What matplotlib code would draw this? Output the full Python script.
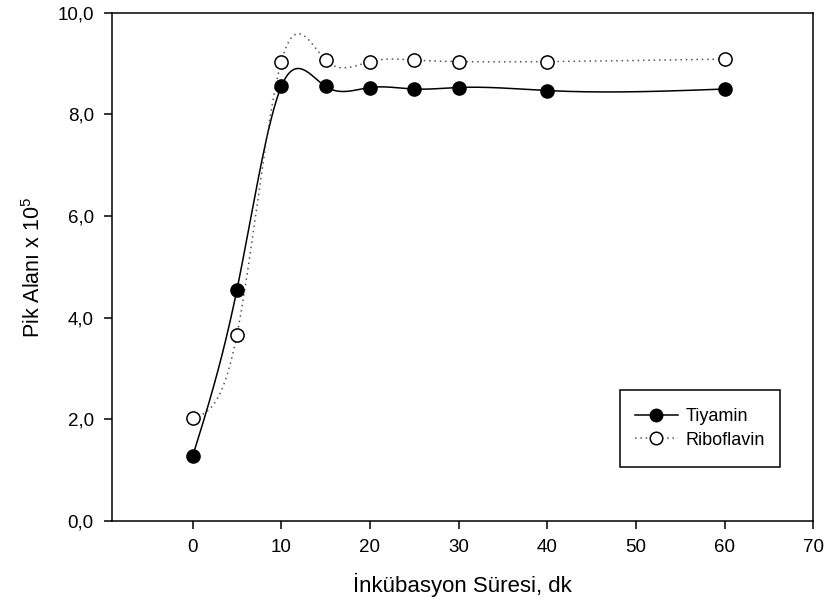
import numpy as np
import matplotlib
matplotlib.use('Agg')
import matplotlib.pyplot as plt
from matplotlib.patches import Rectangle
from matplotlib.ticker import FuncFormatter, MultipleLocator


# incubation time (min) and peak areas (x 10^5)
sure = [0, 5, 10, 15, 20, 25, 30, 40, 60]
tiyamin = [1.27, 4.55, 8.55, 8.55, 8.53, 8.50, 8.53, 8.47, 8.50]
riboflavin = [2.03, 3.66, 9.04, 9.07, 9.04, 9.07, 9.04, 9.04, 9.09]

plt.rcParams['font.family'] = ['Liberation Sans', 'DejaVu Sans']
plt.rcParams['mathtext.fontset'] = 'custom'
plt.rcParams['mathtext.rm'] = 'Liberation Sans'
plt.rcParams['mathtext.it'] = 'Liberation Sans'


def natural_spline(x, y, n=400):
    # natural cubic spline through the measured points
    x = np.asarray(x, float)
    y = np.asarray(y, float)
    k = len(x)
    h = np.diff(x)
    A = np.zeros((k, k))
    b = np.zeros(k)
    A[0, 0] = A[-1, -1] = 1
    for i in range(1, k - 1):
        A[i, i - 1] = h[i - 1]
        A[i, i] = 2 * (h[i - 1] + h[i])
        A[i, i + 1] = h[i]
        b[i] = 6 * ((y[i + 1] - y[i]) / h[i] - (y[i] - y[i - 1]) / h[i - 1])
    m = np.linalg.solve(A, b)
    xs = np.linspace(x[0], x[-1], n)
    idx = np.clip(np.searchsorted(x, xs) - 1, 0, k - 2)
    x0, x1 = x[idx], x[idx + 1]
    y0, y1 = y[idx], y[idx + 1]
    m0, m1 = m[idx], m[idx + 1]
    hh = x1 - x0
    t1 = x1 - xs
    t0 = xs - x0
    ys = (m0 * t1 ** 3 + m1 * t0 ** 3) / (6 * hh) \
        + (y0 / hh - m0 * hh / 6) * t1 + (y1 / hh - m1 * hh / 6) * t0
    return xs, ys


fig = plt.figure(figsize=(8.29, 6.10), dpi=100)
ax = fig.add_axes([0.135, 0.146, 0.846, 0.833])

dots = (0, (1, 2.5))

xs, ys = natural_spline(sure, tiyamin)
ax.plot(xs, ys, color='black', lw=1.1)
xs, ys = natural_spline(sure, riboflavin)
ax.plot(xs, ys, color='#555555', lw=1.1, linestyle=dots)

ax.plot(sure, tiyamin, 'o', color='black', ms=9.5, zorder=3)
ax.plot(sure, riboflavin, 'o', mfc='white', mec='black', mew=1.1, ms=9.5, zorder=3)

# legend box drawn separately so the entries sit tight in the middle
box = (0.724, 0.106, 0.228, 0.152)
ax.add_patch(Rectangle(box[:2], box[2], box[3], transform=ax.transAxes,
                       facecolor='white', edgecolor='black', lw=1.1, zorder=4))

h1, = ax.plot([], [], color='black', lw=1.1, marker='o', ms=9)
h2, = ax.plot([], [], color='#555555', lw=1.1, linestyle=dots,
              marker='o', mfc='white', mec='black', mew=1.1, ms=9)
leg = ax.legend([h1, h2], ['Tiyamin', 'Riboflavin'],
                loc='center', bbox_to_anchor=(box[0] + box[2] / 2, box[1] + box[3] / 2),
                frameon=False, fontsize=13, handlelength=2.4,
                labelspacing=0.35, handletextpad=0.4, borderaxespad=0)
leg.set_zorder(5)

ax.set_xlim(-9.1, 70)
ax.set_ylim(0, 10)
ax.set_xticks(range(0, 71, 10))
ax.yaxis.set_major_locator(MultipleLocator(2))
ax.yaxis.set_major_formatter(FuncFormatter(lambda v, p: f'{v:.1f}'.replace('.', ',')))

for s in ax.spines.values():
    s.set_linewidth(1.1)
ax.tick_params(direction='out', length=6, width=1.1, pad=7, labelsize=13.5)

ax.set_xlabel('İnkübasyon Süresi, dk', fontsize=16, labelpad=12)
ax.set_ylabel('Pik Alanı x 10$^5$', fontsize=15.5, labelpad=9)

fig.savefig('out.png', dpi=100)
